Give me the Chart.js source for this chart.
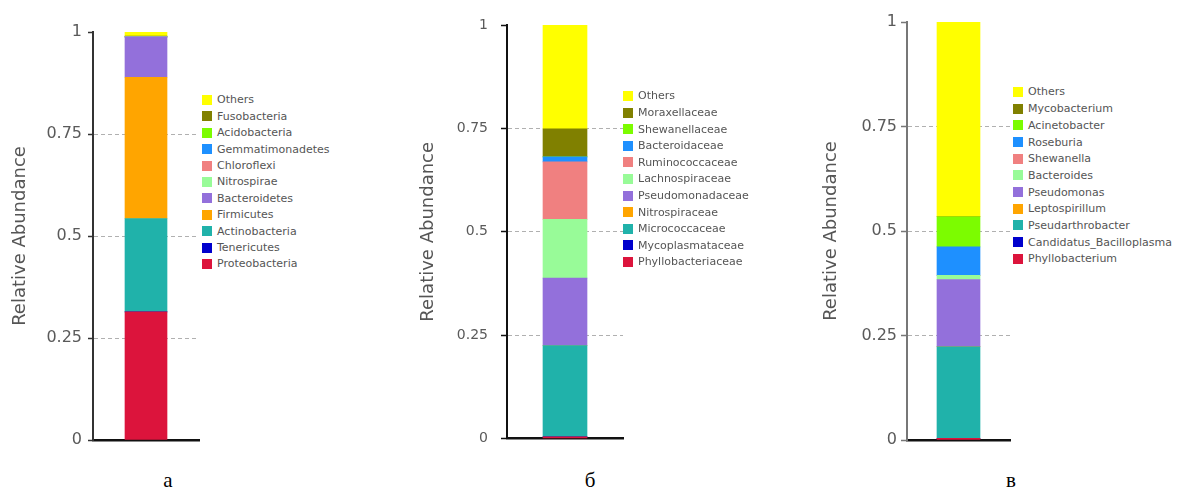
<!DOCTYPE html>
<html>
<head>
<meta charset="utf-8">
<script src="https://cdn.jsdelivr.net/npm/chart.js@4"></script>
<style>
  body { margin: 0; width: 1187px; height: 488px; background: #fff; position: relative; overflow: hidden; }
  canvas { position: absolute; top: 0; }
  .legend { position: absolute; font: 11px 'DejaVu Sans', sans-serif; color: #555; white-space: nowrap; }
  .legend div { display: flex; align-items: center; }
  .legend span { display: inline-block; width: 10px; height: 10px; margin-right: 5px; }
  .panel-label { position: absolute; top: 468px; width: 40px; text-align: center; font: 21px 'Liberation Serif', 'Times New Roman', serif; line-height: 24px; color: #000; }
</style>
</head>
<body>
<canvas id="chartA" width="200" height="460"></canvas>
<canvas id="chartB" width="224" height="460"></canvas>
<canvas id="chartC" width="221" height="460"></canvas>
<script>
// подписи панелей и деления оси Y
const panelLabels = ['а', 'б', 'в'];
const yTicks = [0, 0.25, 0.5, 0.75, 1];

// а — типы (снизу вверх по столбцу)
const taxaA = ['Proteobacteria', 'Tenericutes', 'Actinobacteria', 'Firmicutes', 'Bacteroidetes', 'Nitrospirae',
  'Chloroflexi', 'Gemmatimonadetes', 'Acidobacteria', 'Fusobacteria', 'Others'];
const valuesA = [0.314, 0, 0.229, 0.346, 0.099, 0, 0, 0, 0, 0.002, 0.010];

// б — семейства
const taxaB = ['Phyllobacteriaceae', 'Mycoplasmataceae', 'Micrococcaceae', 'Nitrospiraceae', 'Pseudomonadaceae',
  'Lachnospiraceae', 'Ruminococcaceae', 'Bacteroidaceae', 'Shewanellaceae', 'Moraxellaceae', 'Others'];
const valuesB = [0.004, 0, 0.221, 0, 0.163, 0.142, 0.139, 0.012, 0, 0.068, 0.251];

// в — роды
const taxaC = ['Phyllobacterium', 'Candidatus_Bacilloplasma', 'Pseudarthrobacter', 'Leptospirillum', 'Pseudomonas',
  'Bacteroides', 'Shewanella', 'Roseburia', 'Acinetobacter', 'Mycobacterium', 'Others'];
const valuesC = [0.004, 0, 0.219, 0, 0.161, 0.010, 0, 0.068, 0.072, 0, 0.466];

// цвета по позиции в столбце (снизу вверх)
const palette = ['#dc143c', '#0000cd', '#20b2aa', '#ffa500', '#9370db', '#98fb98',
  '#f08080', '#1e90ff', '#7cfc00', '#808000', '#ffff00'];

// размещение панелей
const layout = [
  { id: 'chartA', left: 0, axisWidth: 93, top: 32, tickSize: 16, tickLen: 5, tickPad: 6, titlePad: 11,
    axisColor: '#333', bar: 42, legend: { x: 202, y: 100, row: 16.4 }, labelX: 168 },
  { id: 'chartB', left: 400, axisWidth: 107, top: 25, tickSize: 14, tickLen: 6, tickPad: 13, titlePad: 19,
    axisColor: '#111', bar: 44, legend: { x: 623, y: 96, row: 16.6 }, labelX: 590 },
  { id: 'chartC', left: 790, axisWidth: 117, top: 22, tickSize: 16, tickLen: 6, tickPad: 4, titlePad: 32,
    axisColor: '#777', bar: 43, legend: { x: 1013, y: 92, row: 16.7 }, labelX: 1011 }
];

const panels = [
  { taxa: taxaA, values: valuesA },
  { taxa: taxaB, values: valuesB },
  { taxa: taxaC, values: valuesC }
];

panels.forEach((p, i) => {
  const L = layout[i];
  const el = document.getElementById(L.id);
  el.style.left = L.left + 'px';

  new Chart(el, {
    type: 'bar',
    data: {
      labels: [panelLabels[i]],
      datasets: p.taxa.map((name, j) => ({
        label: name,
        data: [p.values[j]],
        backgroundColor: palette[j],
        borderWidth: 0,
        barThickness: L.bar
      }))
    },
    options: {
      responsive: false,
      animation: false,
      layout: { padding: { top: L.top, bottom: 20, left: 0, right: 1 } },
      plugins: { legend: { display: false }, tooltip: { enabled: false } },
      scales: {
        x: {
          stacked: true,
          afterFit: s => { s.height = 0; },
          ticks: { display: false },
          grid: { display: false },
          border: { color: '#111', width: 2.5 }
        },
        y: {
          stacked: true,
          min: 0,
          max: 1,
          afterBuildTicks: s => { s.ticks = yTicks.map(v => ({ value: v })); },
          afterFit: s => { s.width = L.axisWidth; },
          ticks: {
            color: '#5a5a5a',
            padding: L.tickPad,
            font: { family: 'DejaVu Sans', size: L.tickSize },
            callback: v => String(v)
          },
          grid: {
            color: c => (c.tick && c.tick.value > 0 && c.tick.value < 1) ? '#b0b0b0' : 'rgba(0,0,0,0)',
            tickLength: L.tickLen,
            tickColor: L.axisColor,
            tickWidth: 1.5
          },
          border: { color: L.axisColor, width: 2, dash: [4, 3] },
          title: {
            display: true,
            text: 'Relative Abundance',
            color: '#555',
            font: { family: 'DejaVu Sans', size: 18 },
            padding: { top: L.titlePad - 1, bottom: 0 }
          }
        }
      }
    }
  });

  // легенда: сверху Others, как в исходном рисунке
  const leg = document.createElement('div');
  leg.className = 'legend';
  leg.style.left = L.legend.x + 'px';
  leg.style.top = (L.legend.y - L.legend.row / 2) + 'px';
  for (let j = p.taxa.length - 1; j >= 0; j--) {
    const row = document.createElement('div');
    row.style.height = L.legend.row + 'px';
    const box = document.createElement('span');
    box.style.background = palette[j];
    row.appendChild(box);
    row.appendChild(document.createTextNode(p.taxa[j]));
    leg.appendChild(row);
  }
  document.body.appendChild(leg);

  const lab = document.createElement('div');
  lab.className = 'panel-label';
  lab.style.left = (L.labelX - 20) + 'px';
  lab.textContent = panelLabels[i];
  document.body.appendChild(lab);
});
</script>
</body>
</html>
